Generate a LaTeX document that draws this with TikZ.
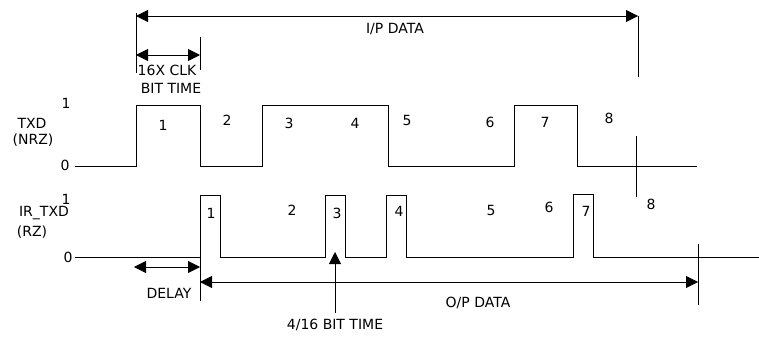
\documentclass[tikz,border=0pt]{standalone}
\usepackage{fontspec}
\setmainfont{DejaVu Sans}
\usetikzlibrary{arrows.meta}

\tikzset{
  wave/.style = {line width=0.8pt},
  tick/.style = {line width=0.8pt},
  dim/.style  = {line width=0.8pt, {Triangle[length=12pt,width=12pt]}-{Triangle[length=12pt,width=12pt]}},
  pin/.style  = {line width=0.8pt, -{Triangle[length=12pt,width=12pt]}},
  lbl/.style  = {font=\fontsize{14}{16}\selectfont, inner sep=0pt}
}

\begin{document}
\begin{tikzpicture}[x=1pt, y=-1pt]
            \useasboundingbox (0,0) rectangle (759,337);

            % txd (nrz)
            \draw[wave] (75,166) -- (136,166) -- (136,105) -- (200,105) -- (200,166)
                -- (262,166) -- (262,105) -- (388,105) -- (388,166) -- (514,166)
                -- (514,105) -- (577,105) -- (577,166) -- (697,166);
            % ir_txd (rz)
            \draw[wave] (75,257) -- (200,257) -- (200,195) -- (220,195) -- (220,257)
                -- (325,257) -- (325,195) -- (345,195) -- (345,257) -- (386,257)
                -- (386,195) -- (406,195) -- (406,257) -- (573,257) -- (573,194)
                -- (593,194) -- (593,257) -- (759,257);

            \coordinate (ipL)    at (136,16);
            \coordinate (ipR)    at (638,16);
            \coordinate (bitL)   at (136,55);
            \coordinate (bitR)   at (200,55);
            \coordinate (delL)   at (134,267);
            \coordinate (delR)   at (200,267);
            \coordinate (opL)    at (200,282);
            \coordinate (opR)    at (698,282);
            \coordinate (quartS) at (335,313);
            \coordinate (quartE) at (335,252);

            % ticks
            \draw[tick] (136,13) -- (136,73);
            \draw[tick] (200,37) -- (200,70);
            \draw[tick] (638,16) -- (638,77);
            \draw[tick] (636,136) -- (636,197);
            \draw[tick] (200,257) -- (200,301);
            \draw[tick] (698,244) -- (698,305);

            \draw[dim] (ipL) -- (ipR);
            \draw[dim] (bitL) -- (bitR);
            \draw[dim] (delL) -- (delR);
            \draw[dim] (opL) -- (opR);
            \draw[pin] (quartS) -- (quartE);

            \node[lbl] (ipdata) at (395,29) {I/P DATA};
            \node[lbl] (clk)    at (167,70) {16X CLK};
            \node[lbl] (bittm)  at (171,88) {BIT TIME};
            \node[lbl] (delay)  at (169,293) {DELAY};
            \node[lbl] (opdata) at (478,303) {O/P DATA};
            \node[lbl] (quart)  at (335,325) {4/16 BIT TIME};

            \node[lbl] (txdhi) at (66,103) {1};
            \node[lbl] (txdlo) at (65,165) {0};
            \node[lbl] (txd)   at (32,123) {TXD};
            \node[lbl] (nrz)   at (33,140) {(NRZ)};
            \node[lbl] (irhi)  at (66,199) {1};
            \node[lbl] (irlo)  at (68,257) {0};
            \node[lbl] (irtxd) at (44,213) {IR\_TXD};
            \node[lbl] (rz)    at (32,232) {(RZ)};

            \foreach \n/\x/\y in {1/163/125, 2/227/120, 3/289/123, 4/355/123,
                                  5/407/120, 6/490/122, 7/545/122, 8/609/118}
                \node[lbl] (t\n) at (\x,\y) {\n};
            \foreach \n/\x/\y in {1/211/213, 2/292/210, 3/337/213, 4/399/211,
                                  5/491/210, 6/549/207, 7/586/211, 8/651/204}
                \node[lbl] (r\n) at (\x,\y) {\n};
        \end{tikzpicture}
\end{document}
